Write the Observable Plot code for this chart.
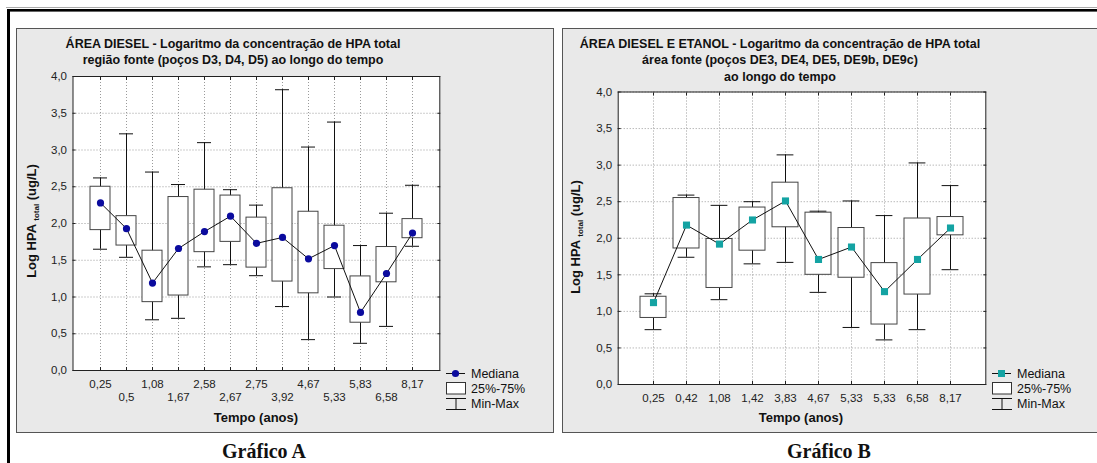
<!DOCTYPE html>
<html><head><meta charset="utf-8">
<script src="https://cdn.jsdelivr.net/npm/d3@7"></script>
<script src="https://cdn.jsdelivr.net/npm/@observablehq/plot@0.6"></script>
<style>
html,body{margin:0;padding:0;background:#fff;}
#page{position:relative;width:1097px;height:463px;overflow:hidden;font-family:"Liberation Sans",Arial,sans-serif;color:#111;}
.panel{position:absolute;background:#e9e9e9;border:1px solid #555;box-sizing:border-box;}
.title{position:absolute;text-align:center;font-weight:bold;font-size:12.5px;line-height:16.3px;white-space:nowrap;width:600px;}
.ytitle{position:absolute;width:200px;height:16px;line-height:16px;text-align:center;font-weight:bold;font-size:13px;transform:rotate(-90deg);white-space:nowrap;}
.ytitle sub{font-size:8px;vertical-align:-3px;line-height:0;}
.xtitle{position:absolute;font-weight:bold;font-size:13px;width:200px;height:16px;line-height:16px;text-align:center;}
.caption{position:absolute;font-family:"Liberation Serif","Times New Roman",serif;font-weight:bold;font-size:20px;width:200px;height:22px;line-height:22px;text-align:center;}
.plot{position:absolute;}
#overlay{position:absolute;left:0;top:0;}
</style></head><body>
<div id="page">
  <div class="panel" style="left:16px;top:28px;width:538px;height:405px;"></div>
  <div class="panel" style="left:562px;top:28px;width:545px;height:405px;"></div>
  <div class="title" style="left:-67px;top:36px;">ÁREA DIESEL - Logaritmo da concentração de HPA total<br>região fonte (poços D3, D4, D5) ao longo do tempo</div>
  <div class="title" style="left:480px;top:36px;">ÁREA DIESEL E ETANOL - Logaritmo da concentração de HPA total<br>área fonte (poços DE3, DE4, DE5, DE9b, DE9c)<br>ao longo do tempo</div>
  <div class="ytitle" style="left:-68px;top:213px;">Log HPA <sub>total</sub> (ug/L)</div>
  <div class="ytitle" style="left:476px;top:229px;">Log HPA <sub>total</sub> (ug/L)</div>
  <div class="xtitle" style="left:156px;top:410px;">Tempo (anos)</div>
  <div class="xtitle" style="left:701px;top:410px;">Tempo (anos)</div>
  <div class="caption" style="left:164px;top:440px;">Gráfico A</div>
  <div class="caption" style="left:729px;top:440px;">Gráfico B</div>
  <div id="plotA" class="plot" style="left:17px;top:29px;"></div>
  <div id="plotB" class="plot" style="left:563px;top:29px;"></div>
  <svg id="overlay" width="1097" height="463"></svg>
</div>
<script>
// ---- Data: Gráfico A (área diesel, poços D3, D4, D5) ----
const labelsA = ["0,25","0,5","1,08","1,67","2,58","2,67","2,75","3,92","4,67","5,33","5,83","6,58","8,17"];
const minA    = [1.65, 1.54, 0.69, 0.71, 1.41, 1.44, 1.29, 0.87, 0.42, 1.00, 0.37, 0.60, 1.69];
const q1A     = [1.91, 1.70, 0.93, 1.02, 1.61, 1.75, 1.40, 1.21, 1.05, 1.38, 0.65, 1.20, 1.80];
const medA    = [2.28, 1.93, 1.19, 1.66, 1.89, 2.10, 1.73, 1.81, 1.52, 1.70, 0.79, 1.32, 1.87];
const q3A     = [2.50, 2.10, 1.63, 2.36, 2.46, 2.38, 2.08, 2.48, 2.16, 1.97, 1.28, 1.68, 2.06];
const maxA    = [2.62, 3.22, 2.70, 2.53, 3.10, 2.46, 2.25, 3.82, 3.04, 3.38, 1.70, 2.14, 2.52];

// ---- Data: Gráfico B (área diesel e etanol) ----
const labelsB = ["0,25","0,42","1,08","1,42","3,83","4,67","5,33","5,33","6,58","8,17"];
const minB    = [0.75, 1.74, 1.16, 1.65, 1.67, 1.26, 0.78, 0.61, 0.75, 1.57];
const q1B     = [0.91, 1.86, 1.32, 1.83, 2.15, 1.50, 1.46, 0.82, 1.23, 2.04];
const medB    = [1.12, 2.18, 1.92, 2.25, 2.51, 1.71, 1.88, 1.27, 1.71, 2.14];
const q3B     = [1.20, 2.55, 1.99, 2.42, 2.76, 2.35, 2.14, 1.66, 2.27, 2.29];
const maxB    = [1.24, 2.59, 2.45, 2.50, 3.14, 2.37, 2.51, 2.31, 3.03, 2.72];

const yTicks = [0, 0.5, 1, 1.5, 2, 2.5, 3, 3.5, 4];

function boxPlot(cfg) {
  const {labels, mins, q1s, meds, q3s, maxs, width, height, margins, pi, capInset, dot, stagger} = cfg;
  const keys = labels.map((_, i) => i);
  const rows = keys.map(i => ({k: i, min: mins[i], q1: q1s[i], med: meds[i], q3: q3s[i], max: maxs[i]}));
  const fmtY = d => d.toFixed(1).replace(".", ",");
  const fmtX = i => labels[i];
  const none = () => "";
  const grid = {stroke: "#9a9a9a", strokeOpacity: 1, strokeDasharray: "1,2"};
  const axesX = stagger ? [
    Plot.axisX({ticks: keys.filter(i => i % 2 === 0), tickSize: 0, tickPadding: 9, tickFormat: fmtX, label: null}),
    Plot.axisX({ticks: keys.filter(i => i % 2 === 1), tickSize: 0, tickPadding: 9, dy: 13, tickFormat: fmtX, label: null})
  ] : [Plot.axisX({ticks: keys, tickSize: 0, tickPadding: 9, tickFormat: fmtX, label: null})];
  return Plot.plot({
    width, height, ...margins,
    style: {background: "transparent", fontFamily: "Liberation Sans, Arial, sans-serif", fontSize: "11.5px", color: "#222"},
    x: {type: "band", domain: keys, paddingInner: pi, paddingOuter: (1 + pi) / 2, align: 0.5},
    y: {domain: [0, 4]},
    marks: [
      Plot.frame({fill: "white"}),
      Plot.gridY(yTicks, grid),
      Plot.gridX(keys, grid),
      Plot.ruleX(rows, {x: "k", y1: "min", y2: "max", stroke: "#111"}),
      Plot.tickY(rows, {x: "k", y: "min", stroke: "#111", insetLeft: capInset, insetRight: capInset}),
      Plot.tickY(rows, {x: "k", y: "max", stroke: "#111", insetLeft: capInset, insetRight: capInset}),
      Plot.barY(rows, {x: "k", y1: "q1", y2: "q3", fill: "white", stroke: "#444"}),
      Plot.lineY(rows, {x: "k", y: "med", stroke: "#111", strokeWidth: 1}),
      Plot.dot(rows, {x: "k", y: "med", ...dot}),
      Plot.frame({stroke: "#222"}),
      Plot.axisY({ticks: yTicks, anchor: "left", tickSize: 0, tickPadding: 6, tickFormat: fmtY, label: null}),
      Plot.axisY({ticks: yTicks, anchor: "left", tickSize: 3, dx: 3, tickFormat: none, label: null, stroke: "#222"}),
      Plot.axisY({ticks: yTicks, anchor: "right", tickSize: 3, dx: -3, tickFormat: none, label: null, stroke: "#222"}),
      Plot.axisX({ticks: keys, anchor: "top", tickSize: 3, dy: 3, tickFormat: none, label: null, stroke: "#222"}),
      Plot.axisX({ticks: keys, anchor: "bottom", tickSize: 3, dy: -3, tickFormat: none, label: null, stroke: "#222"}),
      ...axesX
    ]
  });
}

document.getElementById("plotA").append(boxPlot({
  labels: labelsA, mins: minA, q1s: q1A, meds: medA, q3s: q3A, maxs: maxA,
  width: 536, height: 403,
  margins: {marginLeft: 55.5, marginRight: 113.7, marginTop: 47, marginBottom: 62},
  pi: 0.23, capInset: 3,
  dot: {r: 3.6, fill: "#0b0b9e", stroke: "none"},
  stagger: true
}));

document.getElementById("plotB").append(boxPlot({
  labels: labelsB, mins: minB, q1s: q1B, meds: medB, q3s: q3B, maxs: maxB,
  width: 534, height: 403,
  margins: {marginLeft: 54.7, marginRight: 111.7, marginTop: 62.5, marginBottom: 48},
  pi: 0.2, capInset: 4.6,
  dot: {r: 4, symbol: "square", fill: "#14a3a3", stroke: "none"},
  stagger: false
}));

// ---- Frame and legends (decoration) ----
const ov = d3.select("#overlay");
ov.append("rect").attr("x", 6).attr("y", 7).attr("width", 1091).attr("height", 1).attr("fill", "#aaa");
ov.append("rect").attr("x", 7).attr("y", 9).attr("width", 1090).attr("height", 2.6).attr("fill", "#000");
ov.append("rect").attr("x", 7).attr("y", 9).attr("width", 3).attr("height", 454).attr("fill", "#000");

function legend(x0, isSquare, color) {
  const g = ov.append("g").attr("font-family", "Liberation Sans, Arial, sans-serif").attr("font-size", "12.5px").attr("fill", "#111");
  g.append("line").attr("x1", x0).attr("x2", x0 + 19).attr("y1", 373.5).attr("y2", 373.5).attr("stroke", "#111");
  if (isSquare) g.append("rect").attr("x", x0 + 6).attr("y", 370).attr("width", 7).attr("height", 7).attr("fill", color);
  else g.append("circle").attr("cx", x0 + 9.5).attr("cy", 373.5).attr("r", 3.6).attr("fill", color);
  g.append("rect").attr("x", x0 + 0.5).attr("y", 382.5).attr("width", 19).attr("height", 11.5).attr("fill", "white").attr("stroke", "#333");
  g.append("line").attr("x1", x0).attr("x2", x0 + 20).attr("y1", 398.5).attr("y2", 398.5).attr("stroke", "#111");
  g.append("line").attr("x1", x0 + 10).attr("x2", x0 + 10).attr("y1", 398.5).attr("y2", 409.5).attr("stroke", "#111");
  g.append("line").attr("x1", x0).attr("x2", x0 + 20).attr("y1", 409.5).attr("y2", 409.5).attr("stroke", "#111");
  const tx = x0 + 25;
  g.append("text").attr("x", tx).attr("y", 373.5).attr("dy", "0.35em").text("Mediana");
  g.append("text").attr("x", tx).attr("y", 388.5).attr("dy", "0.35em").text("25%-75%");
  g.append("text").attr("x", tx).attr("y", 403.5).attr("dy", "0.35em").text("Min-Max");
}
legend(446, false, "#0b0b9e");
legend(992, true, "#14a3a3");
</script>
</body></html>
